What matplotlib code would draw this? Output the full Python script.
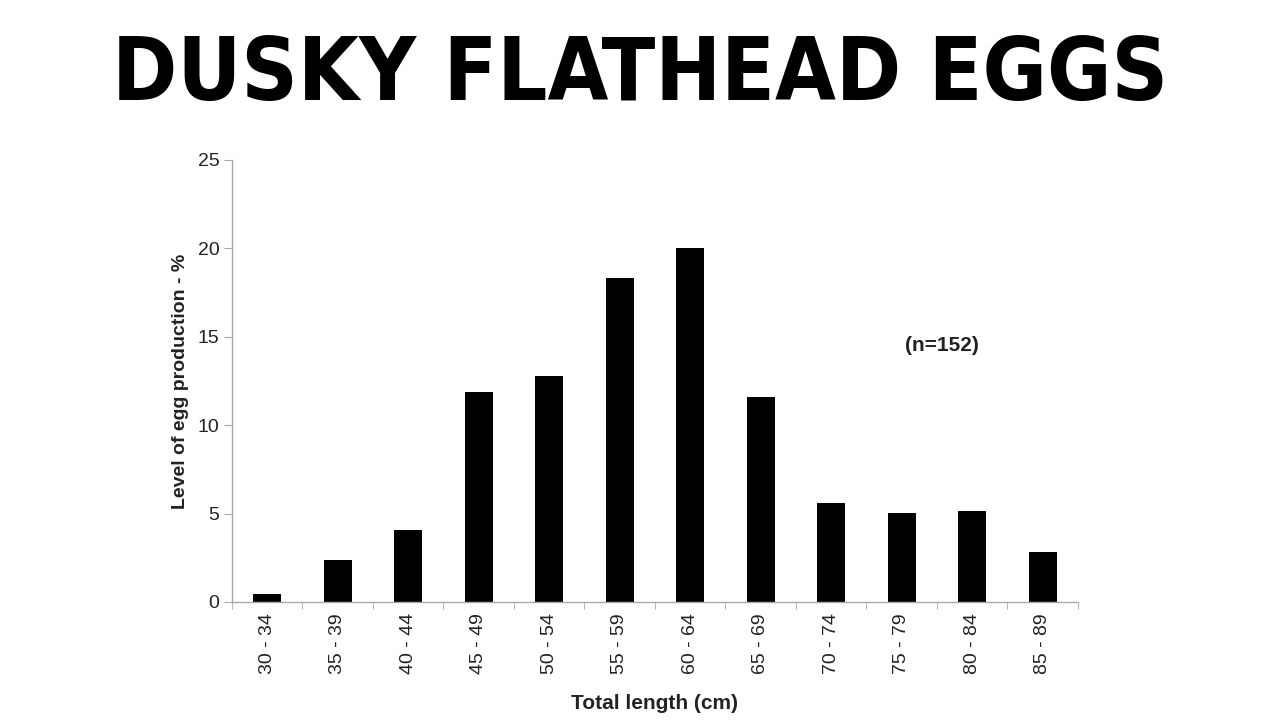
import numpy as np
import matplotlib.pyplot as plt

# size classes (total length, cm) and share of egg production (%)
length_classes = ['30 - 34', '35 - 39', '40 - 44', '45 - 49', '50 - 54', '55 - 59',
                  '60 - 64', '65 - 69', '70 - 74', '75 - 79', '80 - 84', '85 - 89']
egg_pct = [0.45, 2.4, 4.05, 11.85, 12.8, 18.3, 20.0, 11.6, 5.6, 5.05, 5.15, 2.85]

plt.rcParams['font.family'] = ['Liberation Sans', 'DejaVu Sans']

fig = plt.figure(figsize=(12.8, 7.2), dpi=100)
fig.patch.set_facecolor('white')

# big poster-style title
fig.text(0.5, 0.895, 'DUSKY FLATHEAD EGGS', ha='center', va='center',
         fontsize=63, fontweight='heavy', fontstretch='condensed',
         family=['DejaVu Sans'], color='black')

ax = fig.add_axes([0.18125, 0.1639, 0.6609, 0.6139])

x = np.arange(len(length_classes))
ax.bar(x, egg_pct, width=0.4, color='black')

ax.set_xlim(-0.5, len(length_classes) - 0.5)
ax.set_ylim(0, 25)
ax.set_yticks([0, 5, 10, 15, 20, 25])

# category labels centred, tick marks on the boundaries
ax.set_xticks(x)
ax.set_xticklabels(length_classes, rotation=90, fontsize=14, color='#222222')
ax.tick_params(axis='x', which='major', length=0, pad=8)
ax.set_xticks(np.arange(-0.5, len(length_classes)), minor=True)
ax.tick_params(axis='x', which='minor', length=5, color='#aaaaaa', direction='out')
ax.tick_params(axis='y', labelsize=14, labelcolor='#222222', length=6,
               color='#aaaaaa', pad=3)

for side in ['top', 'right']:
    ax.spines[side].set_visible(False)
for side in ['left', 'bottom']:
    ax.spines[side].set_color('#aaaaaa')
    ax.spines[side].set_linewidth(1.0)

ax.set_xlabel('Total length (cm)', fontsize=15, fontweight='bold', color='#222222', labelpad=14)
ax.set_ylabel('Level of egg production - %', fontsize=14, fontweight='bold',
              color='#222222', labelpad=6)

ax.text(9.57, 14.5, '(n=152)', fontsize=15, fontweight='bold', color='#222222',
        ha='center', va='center')

fig.savefig('out.png', dpi=100, facecolor='white')
